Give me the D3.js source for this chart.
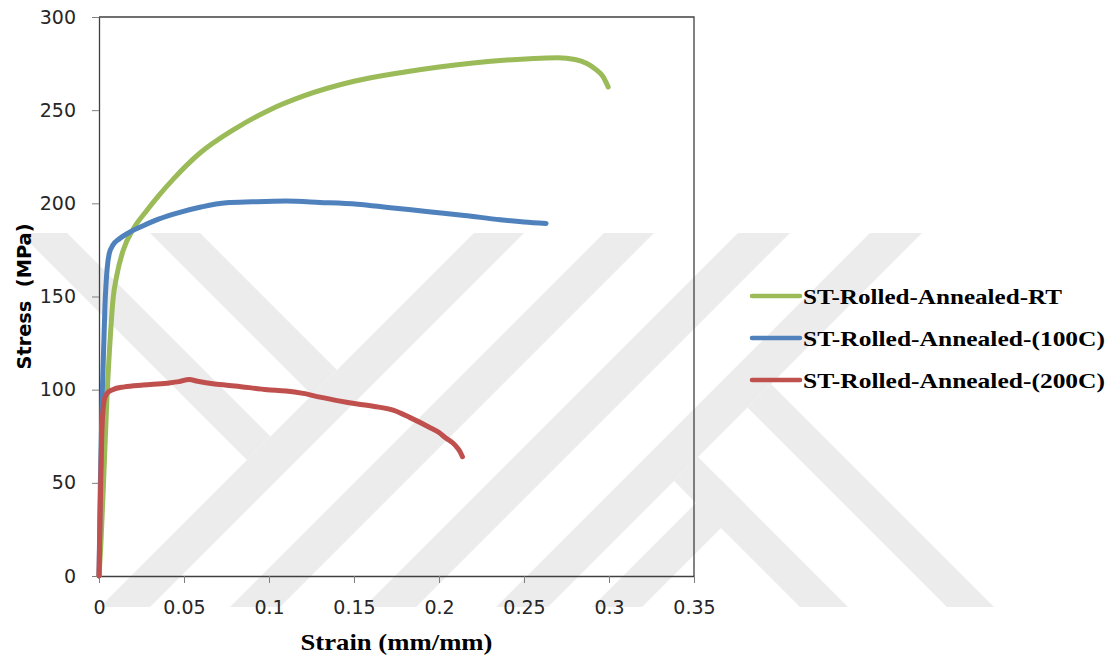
<!DOCTYPE html>
<html>
<head>
<meta charset="utf-8">
<script src="https://cdn.jsdelivr.net/npm/d3@7/dist/d3.min.js"></script>
<style>
  html, body { margin: 0; padding: 0; background: #ffffff; }
  svg { display: block; }
</style>
</head>
<body>
<svg id="chart" width="1115" height="658"></svg>
<script>
// Tensile test curves: engineering stress vs. strain
const seriesNames = [
  "ST-Rolled-Annealed-RT",
  "ST-Rolled-Annealed-(100C)",
  "ST-Rolled-Annealed-(200C)"
];
const seriesColors = ["#9bbb59", "#4f81bd", "#c0504d"];

const strainRT = [0, 0.001, 0.0027, 0.0047, 0.0069, 0.0082, 0.0104, 0.0143, 0.02, 0.028, 0.035, 0.0437, 0.0594, 0.08, 0.1, 0.12, 0.15, 0.18, 0.2, 0.22, 0.24, 0.26, 0.27, 0.28, 0.287, 0.292, 0.2965, 0.2995];
const stressRT = [0, 15, 51, 96, 132, 148, 161, 175, 186, 196, 204, 213, 227, 240, 250, 257.5, 265.5, 270.5, 273.2, 275.3, 276.9, 277.9, 278.1, 277.2, 275, 272, 268, 262.5];

const strain100 = [0, 0.0008, 0.002, 0.0035, 0.0048, 0.006, 0.0082, 0.012, 0.018, 0.026, 0.035, 0.047, 0.06, 0.075, 0.09, 0.11, 0.13, 0.152, 0.17, 0.194, 0.215, 0.236, 0.25, 0.263];
const stress100 = [0, 50, 100, 145, 165, 173, 177.6, 181, 184.5, 188, 191.5, 195, 198, 200.3, 200.8, 201.2, 200.5, 199.5, 197.8, 195.5, 193.5, 191.2, 190, 189.2];

const strain200 = [0, 0.0008, 0.0018, 0.003, 0.0047, 0.008, 0.015, 0.026, 0.04, 0.047, 0.053, 0.058, 0.068, 0.08, 0.099, 0.11, 0.12, 0.13, 0.141, 0.152, 0.162, 0.173, 0.183, 0.194, 0.2, 0.204, 0.208, 0.2106, 0.2125, 0.2138];
const stress200 = [0, 40, 80, 94, 98, 100, 101.5, 102.5, 103.5, 104.3, 105.5, 104.5, 103, 102, 100, 99.3, 98, 96, 94, 92.3, 91, 89, 85, 80, 77, 74, 71.5, 69, 66.5, 64];

const xTicks = [0, 0.05, 0.1, 0.15, 0.2, 0.25, 0.3, 0.35];
const yTicks = [0, 50, 100, 150, 200, 250, 300];
const xTitle = "Strain (mm/mm)";
const yTitle = "Stress\u00a0\u00a0(MPa)";

const series = [
  { name: seriesNames[0], color: seriesColors[0], xs: strainRT, ys: stressRT },
  { name: seriesNames[1], color: seriesColors[1], xs: strain100, ys: stress100 },
  { name: seriesNames[2], color: seriesColors[2], xs: strain200, ys: stress200 }
];

const svg = d3.select("#chart");
const plot = { left: 99, right: 694, top: 17, bottom: 576 };

const x = d3.scaleLinear().domain([0, 0.35]).range([plot.left, plot.right]);
const y = d3.scaleLinear().domain([0, 300]).range([plot.bottom, plot.top]);

// Faint background emblem made of diagonal bands
const emblem = [
  [[100,607],[150,607],[524,233],[474,233]],
  [[230,607],[280,607],[654,233],[604,233]],
  [[364,607],[416,607],[790,233],[738,233]],
  [[496,607],[548,607],[922,233],[870,233]],
  [[150,233],[200,233],[337,370],[312,395]],
  [[20,233],[67,233],[270.5,436.5],[247,460]],
  [[747.5,407.5],[771,384],[994,607],[947,607]],
  [[674,481],[698,457],[848,607],[800,607]],
  [[592,607],[720,479],[745,504],[642,607]]
];
svg.append("g")
  .selectAll("path")
  .data(emblem)
  .join("path")
  .attr("d", d => "M" + d.map(p => p.join(",")).join("L") + "Z")
  .attr("fill", "#ececec");

// Plot frame (top and right edges)
svg.append("path")
  .attr("d", `M${plot.left},${plot.top}H${plot.right}V${plot.bottom}`)
  .attr("fill", "none")
  .attr("stroke", "#404040")
  .attr("stroke-width", 1.3);

// Axes
const fmt = d => (d === 0 ? "0" : String(d));
const xAxis = svg.append("g")
  .attr("transform", `translate(0,${plot.bottom})`)
  .call(d3.axisBottom(x).tickValues(xTicks).tickFormat(fmt).tickSizeInner(7).tickSizeOuter(0).tickPadding(18));
const yAxis = svg.append("g")
  .attr("transform", `translate(${plot.left},0)`)
  .call(d3.axisLeft(y).tickValues(yTicks).tickFormat(fmt).tickSizeInner(7).tickSizeOuter(0).tickPadding(16));

[xAxis, yAxis].forEach(g => {
  g.select(".domain").attr("stroke", "#404040").attr("stroke-width", 1.3);
  g.selectAll(".tick line").attr("stroke", "#7f7f7f").attr("stroke-width", 1);
  g.selectAll(".tick text")
    .attr("fill", "#262626")
    .style("font-family", "'DejaVu Sans', Verdana, sans-serif")
    .style("font-size", "19px");
});

// Curves
const line = d3.line()
  .x(d => x(d[0]))
  .y(d => y(d[1]))
  .curve(d3.curveMonotoneX);

svg.append("g")
  .selectAll("path")
  .data(series)
  .join("path")
  .attr("d", s => line(s.xs.map((v, i) => [v, s.ys[i]])))
  .attr("fill", "none")
  .attr("stroke", s => s.color)
  .attr("stroke-width", 5)
  .attr("stroke-linecap", "round")
  .attr("stroke-linejoin", "round");

// Axis titles
svg.append("text")
  .attr("x", (plot.left + plot.right) / 2)
  .attr("y", 650)
  .attr("text-anchor", "middle")
  .attr("textLength", 192)
  .attr("lengthAdjust", "spacingAndGlyphs")
  .style("font-family", "'Liberation Serif', 'Times New Roman', serif")
  .style("font-weight", "bold")
  .style("font-size", "23px")
  .attr("fill", "#000")
  .text(xTitle);

svg.append("text")
  .attr("transform", `translate(31,${(plot.top + plot.bottom) / 2}) rotate(-90)`)
  .attr("text-anchor", "middle")
  .attr("textLength", 146)
  .attr("lengthAdjust", "spacingAndGlyphs")
  .style("font-family", "'DejaVu Sans', Verdana, sans-serif")
  .style("font-weight", "bold")
  .style("font-size", "19px")
  .attr("fill", "#000")
  .text(yTitle);

// Legend
const legendWidths = [259, 302, 302];
const legend = svg.append("g").attr("transform", "translate(752,296)");
const rows = legend.selectAll("g")
  .data(series)
  .join("g")
  .attr("transform", (d, i) => `translate(0,${i * 42})`);
rows.append("line")
  .attr("x1", 0).attr("x2", 48)
  .attr("y1", 0).attr("y2", 0)
  .attr("stroke", d => d.color)
  .attr("stroke-width", 4.5)
  .attr("stroke-linecap", "round");
rows.append("text")
  .attr("x", 51)
  .attr("y", 8)
  .attr("textLength", (d, i) => legendWidths[i])
  .attr("lengthAdjust", "spacingAndGlyphs")
  .style("font-family", "'Liberation Serif', 'Times New Roman', serif")
  .style("font-weight", "bold")
  .style("font-size", "22px")
  .attr("fill", "#000")
  .text(d => d.name);
</script>
</body>
</html>
